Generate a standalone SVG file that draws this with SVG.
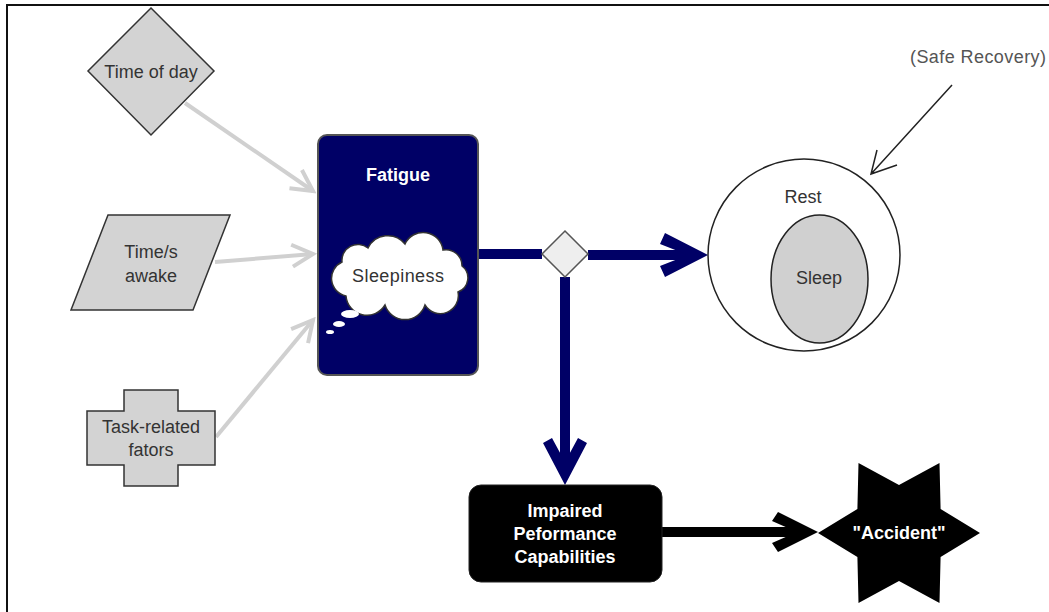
<svg xmlns="http://www.w3.org/2000/svg" width="1049" height="612" viewBox="0 0 1049 612">
<style>
.lbl{font-family:"Liberation Sans",Arial,sans-serif;font-size:18px;text-anchor:middle;fill:#333}
.wb{font-family:"Liberation Sans",Arial,sans-serif;font-size:18px;font-weight:bold;text-anchor:middle;fill:#fff}
.gs{fill:#d3d3d3;stroke:#333;stroke-width:1.5}
.gl{fill:none;stroke:#d0d0d0;stroke-width:4}
.nv{fill:none;stroke:#000066;stroke-width:10}
</style>
<defs>
<marker id="ga" markerUnits="userSpaceOnUse" markerWidth="30" markerHeight="30" viewBox="-26 -14 30 28" refX="0" refY="0" orient="auto">
<path d="M-21 -11 L0 0 L-21 11" fill="none" stroke="#d0d0d0" stroke-width="4"/>
</marker>
</defs>
<rect width="1049" height="612" fill="#fff"/>
<path d="M7 612 V5 H1049" fill="none" stroke="#111" stroke-width="2"/>

<g id="connectors">
<path class="gl" d="M185 103 L313 191" marker-end="url(#ga)"/>
<path class="gl" d="M215 262 L313 254" marker-end="url(#ga)"/>
<path class="gl" d="M216 437 L313 320" marker-end="url(#ga)"/>
<path class="nv" d="M478 254 H542"/>
<path class="nv" d="M588 255 H694"/>
<polygon fill="#000066" points="708,255 665,233 660,244 688,255 660,266 665,277"/>
<path class="nv" d="M565 277 V470"/>
<polygon fill="#000066" points="565,485 543,443 552,438 565,462 578,438 587,443"/>
<path fill="none" stroke="#000" stroke-width="10" d="M662 532 H805"/>
<polygon fill="#000" points="818,532 778,512 772,521 797,532 772,543 778,552"/>
<path fill="none" stroke="#222" stroke-width="1.5" d="M952 85 L871 174 M877 150 L871 174 L897 165"/>
</g>

<g id="timeofday">
<polygon class="gs" points="151,8 214,71 151,135 88,71"/>
<text class="lbl" x="151" y="78">Time of day</text>
</g>

<g id="timeawake">
<polygon class="gs" points="108,215 230,215 193,310 71,310"/>
<text class="lbl" x="151" y="258">Time/s</text>
<text class="lbl" x="151" y="282">awake</text>
</g>

<g id="taskfactors">
<path class="gs" d="M124 390 H178 V411 H215 V465 H178 V486 H124 V465 H87 V411 H124 Z"/>
<text class="lbl" x="151" y="433">Task-related</text>
<text class="lbl" x="151" y="456">fators</text>
</g>

<g id="fatigue">
<rect x="318" y="135" width="160" height="240" rx="9" fill="#000066" stroke="#555" stroke-width="2"/>
<text class="wb" x="398" y="181">Fatigue</text>
<path d="M342 262 A16 16 0 0 1 368 248 A22 22 0 0 1 405 244 A20 20 0 0 1 443 250 A16 16 0 0 1 462 266 A15 15 0 0 1 458 292 A18 18 0 0 1 425 305 A21 21 0 0 1 385 305 A21 21 0 0 1 346 296 A18 18 0 0 1 342 262 Z" fill="#fff" stroke="#333" stroke-width="1.5"/>
<ellipse cx="350" cy="314" rx="9" ry="4" fill="#fff"/>
<ellipse cx="339" cy="324" rx="6" ry="3" fill="#fff"/>
<ellipse cx="330" cy="332" rx="4" ry="2" fill="#fff"/>
<text class="lbl" x="398" y="282" textLength="92">Sleepiness</text>
</g>

<g id="decision">
<polygon points="565,231 588,254 565,277 542,254" fill="#eee" stroke="#555" stroke-width="1.5"/>
</g>

<g id="rest">
<circle cx="804" cy="255" r="96" fill="#fff" stroke="#222" stroke-width="1.5"/>
<text class="lbl" x="803" y="203">Rest</text>
</g>

<g id="sleep">
<ellipse cx="819.5" cy="279" rx="48.5" ry="64" fill="#d0d0d0" stroke="#222" stroke-width="1.5"/>
<text class="lbl" x="819" y="284">Sleep</text>
</g>

<g id="saferecovery">
<text class="lbl" x="978" y="63" style="fill:#555" textLength="136">(Safe Recovery)</text>
</g>

<g id="impaired">
<rect x="469" y="485" width="193" height="97" rx="12" fill="#000" stroke="#222" stroke-width="1"/>
<text class="wb" x="565" y="517">Impaired</text>
<text class="wb" x="565" y="540">Peformance</text>
<text class="wb" x="565" y="563">Capabilities</text>
</g>

<g id="accident">
<polygon fill="#000" points="980,533 940.6,509 939.5,463 899,485 858.5,463 857.4,509 818,533 857.4,557 858.5,603 899,581 939.5,603 940.6,557"/>
<text class="wb" x="899" y="539">"Accident"</text>
</g>
</svg>
